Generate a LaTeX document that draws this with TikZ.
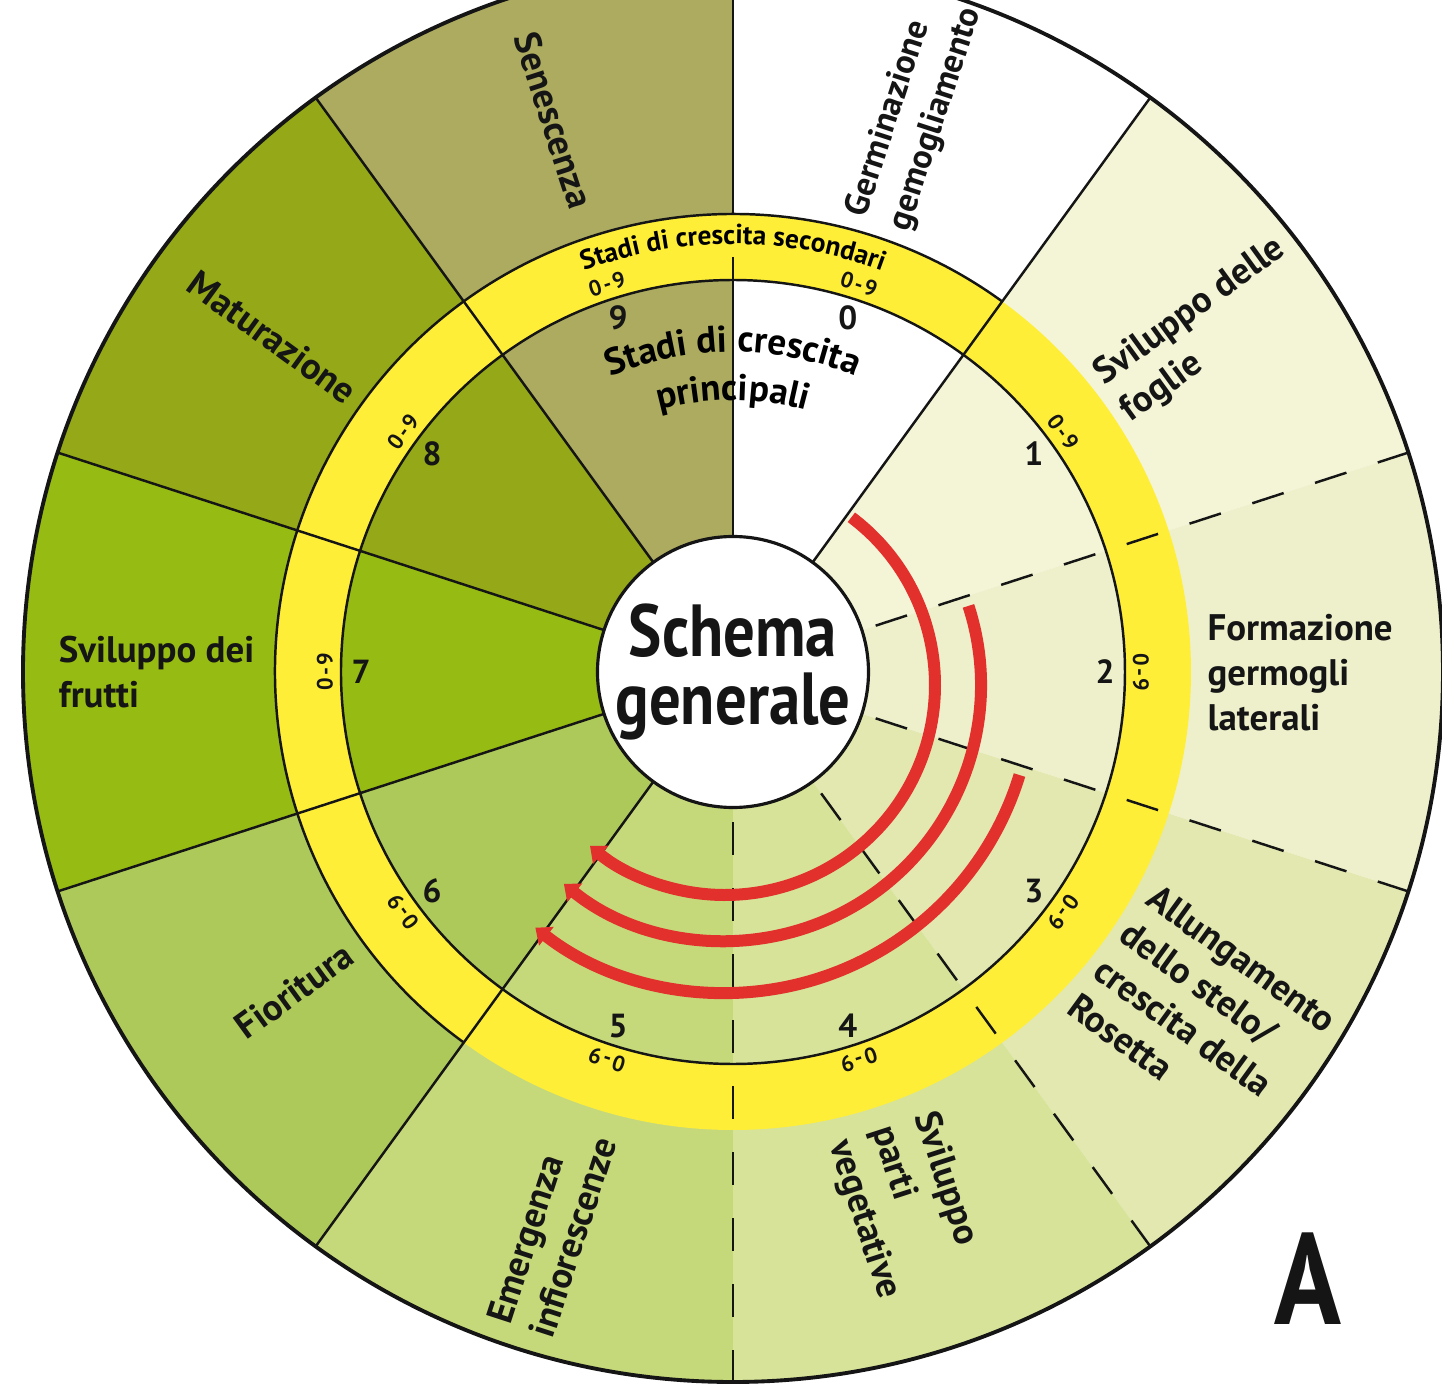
\documentclass[tikz,border=0pt]{standalone}
\usepackage{fontspec}
\setmainfont{PT Sans}
\newfontfamily\condensedsans{PT Sans}[FakeStretch=0.85]
\usepackage{tikz}
\usetikzlibrary{arrows.meta, decorations.text}

\definecolor{stage0}{HTML}{FFFFFF}
\definecolor{stage1}{HTML}{F4F4D7}
\definecolor{stage2}{HTML}{EEF0CB}
\definecolor{stage3}{HTML}{E3E8B0}
\definecolor{stage4}{HTML}{D6E398}
\definecolor{stage5}{HTML}{C6D97A}
\definecolor{stage6}{HTML}{ADC95A}
\definecolor{stage7}{HTML}{96BB12}
\definecolor{stage8}{HTML}{94A818}
\definecolor{stage9}{HTML}{ACAB60}
\definecolor{ringyellow}{HTML}{FFEE38}
\definecolor{arrowred}{HTML}{E2302D}
\definecolor{inkblack}{HTML}{151515}

\tikzset{
  sepline/.style={inkblack, line width=0.7pt},
  sepdash/.style={sepline, dash pattern=on 0.33cm off 0.33cm, dash phase=0.51cm},
  stagenum/.style={font=\fontsize{9.5}{11}\selectfont\bfseries, text=inkblack, inner sep=0pt},
  ringtag/.style={font=\fontsize{6.3}{7}\selectfont\bfseries, text=inkblack, inner sep=0pt},
  outlabel/.style={font=\fontsize{10.5}{12.8}\selectfont\bfseries, align=left, inner sep=0pt, text=inkblack},
  redarc/.style={arrowred, line width=0.12cm, -{Triangle[length=0.14cm, width=0.23cm]}},
}

\begin{document}
\begin{tikzpicture}
  \useasboundingbox (-7.33,-7.13) rectangle (7.09,6.72);
  \clip (-7.33,-7.13) rectangle (7.09,6.72);

  \foreach \k in {0,...,9}{
    \pgfmathsetmacro{\a}{90-36*\k}
    \fill[stage\k] (0,0) -- (\a:7.1) arc[start angle=\a, end angle=\a-36, radius=7.1] -- cycle;
  }
  \fill[ringyellow, even odd rule] (0,0) circle (4.58) circle (3.92);

  \foreach \a in {54,126,162,-162,-126}
    \draw[sepline] (\a:1.35) -- (\a:7.1);
  \draw[sepline] (90:1.35) -- (90:4.15) (90:4.58) -- (90:7.1);
  \foreach \a in {18,-18,-54,-90}
    \draw[sepdash] (\a:1.35) -- (\a:7.1);

  \draw[sepline] (0,0) circle (3.92);
  \draw[sepline] (54:4.58) arc[start angle=54, end angle=234, radius=4.58];
  \draw[inkblack, line width=1.1pt] (0,0) circle (7.1);

  \node[circle, draw=inkblack, line width=0.9pt, fill=white, minimum size=2.7cm, inner sep=0pt,
        align=center, font=\condensedsans\fontsize{21}{19.4}\selectfont\bfseries, text=inkblack] (schema) at (0,0) {Schema\\generale};

  \foreach \k in {0,...,9}{
    \node[stagenum] (num\k) at ({72-36*\k}:3.72) {\k};
    \node[ringtag, rotate={-18-36*\k}] (tag\k) at ({72-36*\k}:4.08) {0\kern0.6pt-\kern0.6pt9};
  }

  \path[decorate, decoration={text along path, text align=center,
        text={|\fontsize{7.8}{9}\selectfont\bfseries|Stadi di crescita secondari}}]
        (120:4.28) arc[start angle=120, end angle=60, radius=4.28];
  \path[decorate, decoration={text along path, text align=center,
        text={|\fontsize{10.6}{12}\selectfont\bfseries|Stadi di crescita}}]
        (120:3.2) arc[start angle=120, end angle=60, radius=3.2];
  \path[decorate, decoration={text along path, text align=center,
        text={|\fontsize{10.6}{12}\selectfont\bfseries|principali}}]
        (120:2.72) arc[start angle=120, end angle=60, radius=2.72];

  \begin{scope}[shift={(-0.08,-0.13)}]
    \draw[redarc] (53:2.1) arc[start angle=53, end angle=-130, radius=2.1];
    \draw[redarc] (18:2.56) arc[start angle=18, end angle=-129, radius=2.56];
    \draw[redarc] (-17:3.08) arc[start angle=-17, end angle=-128, radius=3.08];
  \end{scope}

  \node[outlabel, anchor=west, rotate=72, font=\fontsize{9.8}{12.8}\selectfont\bfseries] (lbl0) at (72:4.72) {Germinazione\\gemogliamento};
  \node[outlabel, anchor=west, rotate=36] (lbl1) at (36:4.68) {Sviluppo delle\\foglie};
  \node[outlabel, anchor=west] (lbl2) at (-0.12:4.74) {Formazione\\germogli\\laterali};
  \node[outlabel, anchor=west, rotate=-36] (lbl3) at (-36:4.68) {Allungamento\\dello stelo/\\crescita della\\Rosetta};
  \node[outlabel, anchor=west, rotate=-72] (lbl4) at (-72:4.78) {Sviluppo\\parti\\vegetative};
  \node[outlabel, anchor=east, rotate=72] (lbl5) at (-108:4.83) {Emergenza\\infiorescenze};
  \node[outlabel, anchor=east, rotate=36] (lbl6) at (-144:4.74) {Fioritura};
  \node[outlabel, anchor=east] (lbl7) at (180:4.78) {Sviluppo dei\\frutti};
  \node[outlabel, anchor=east, rotate=-36] (lbl8) at (144:4.7) {Maturazione};
  \node[outlabel, anchor=east, rotate=-72] (lbl9) at (108:4.88) {Senescenza};

  \node[font=\condensedsans\fontsize{37}{40}\selectfont\bfseries, text=inkblack] (panel) at (5.75,-6.07) {A};
\end{tikzpicture}
\end{document}
